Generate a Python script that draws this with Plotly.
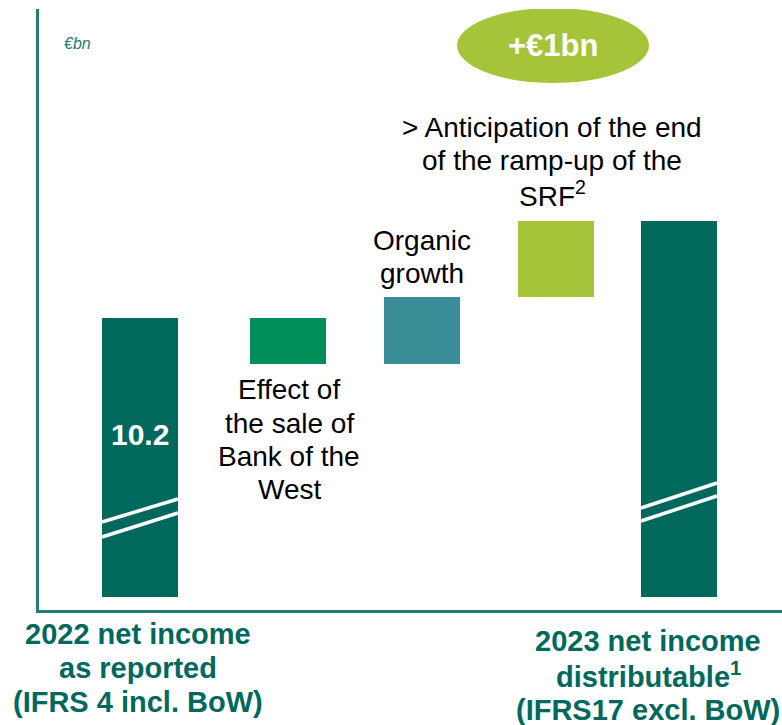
import plotly.graph_objects as go

# ---- data ----
categories = ["2022 net income as reported", "Effect of the sale of Bank of the West",
              "Organic growth", "Anticipation of the end of the ramp-up of the SRF", "2023 net income distributable"]
start_value = 10.2
deltas = [-0.47, 0.69, 0.78]
end_value = round(start_value + sum(deltas), 1)
total_change_label = "+€1bn"
unit_label = "€bn"

# ---- layout constants ----
X_POS = [101, 249, 383, 517, 640]          # bar centres, axis units
BAR_W = 76
Y_RANGE = [7.19, 13.386]
PX_PER_UNIT = 601 / (Y_RANGE[1] - Y_RANGE[0])
BAR_FLOOR = Y_RANGE[0] + 13 / PX_PER_UNIT  # broken-axis bar bottom

DARK = "#00685C"
COLORS = [DARK, "#008F59", "#3A8C96", "#A6C43A", DARK]
AXIS_COL = "#247C73"
FONT = "Arial, 'Liberation Sans', sans-serif"

def py(p):
    """pixel row -> y axis value"""
    return Y_RANGE[1] - (p - 9) / PX_PER_UNIT

def pp(p):
    """pixel row -> paper y"""
    return (610 - p) / 601

# build floating bars from data
bases, heights = [], []
bases.append(BAR_FLOOR); heights.append(start_value - BAR_FLOOR)
level = start_value
for d in deltas:
    lo = min(level, level + d)
    bases.append(lo); heights.append(abs(d))
    level += d
bases.append(BAR_FLOOR); heights.append(end_value - BAR_FLOOR)

fig = go.Figure(go.Bar(
    x=X_POS, y=heights, base=bases, width=BAR_W,
    marker=dict(color=COLORS, line=dict(width=0)),
    hoverinfo="skip", showlegend=False,
))

shapes = []
# axis break marks (white double slashes)
for xc, (a1, b1, a2, b2) in [(X_POS[0], (522, 499, 537, 513)), (X_POS[4], (508, 483, 521, 496))]:
    for l, r in [(a1, b1), (a2, b2)]:
        shapes.append(dict(type="line", xref="x", yref="y",
                           x0=xc - BAR_W / 2, x1=xc + BAR_W / 2, y0=py(l), y1=py(r),
                           line=dict(color="white", width=3.5)))
# ellipse
shapes.append(dict(type="circle", xref="x", yref="y", x0=418, x1=610, y0=py(83), y1=py(8),
                   fillcolor="#A6C43A", line=dict(width=0), layer="above"))

ann = []
def add(text, x, y, size=28, color="black", bold=False, italic=False, xanchor="center"):
    t = f"<b>{text}</b>" if bold else text
    t = f"<i>{t}</i>" if italic else t
    ann.append(dict(text=t, x=x, y=pp(y), xref="x", yref="paper", showarrow=False,
                    xanchor=xanchor, yanchor="middle", align="center",
                    font=dict(family=FONT, size=size, color=color)))

def add_lines(lines, x, ys, **kw):
    for t, y in zip(lines, ys):
        add(t, x, y, **kw)

add(total_change_label, 514, 46, size=31, color="white", bold=True)
add(unit_label, 23, 44, size=16, color=AXIS_COL, italic=True, xanchor="left")
add(f"{start_value:.1f}", X_POS[0], 434, size=30, color="white", bold=True)
add_lines(["Effect of", "the sale of", "Bank of the", "West"], 250, [389, 423, 456, 489])
add_lines(["Organic", "growth"], 383, [240, 273])
add_lines(["&gt; Anticipation of the end", "of the ramp-up of the", "SRF<sup>2</sup>"], 513, [127, 160, 194])
add_lines(["2022 net income", "as reported", "(IFRS 4 incl. BoW)"], 99, [634, 668, 702],
          size=29, color=DARK, bold=True)
add_lines(["2023 net income", "distributable<sup>1</sup>", "(IFRS17 excl. BoW)"], 609, [641, 675, 710],
          size=29, color=DARK, bold=True)

fig.update_layout(
    width=782, height=725,
    margin=dict(l=39, r=0, t=9, b=115),
    plot_bgcolor="white", paper_bgcolor="white",
    xaxis=dict(range=[0, 743], showgrid=False, zeroline=False, showticklabels=False, ticks="",
               showline=True, linecolor=AXIS_COL, linewidth=2.5, fixedrange=True),
    yaxis=dict(range=Y_RANGE, showgrid=False, zeroline=False, showticklabels=False, ticks="",
               showline=True, linecolor=AXIS_COL, linewidth=2.5, fixedrange=True),
    shapes=shapes, annotations=ann,
    bargap=0,
)

fig.write_html("out.html", config={"displayModeBar": False},
               post_script="document.body.style.margin='0';document.body.style.overflow='hidden';")
